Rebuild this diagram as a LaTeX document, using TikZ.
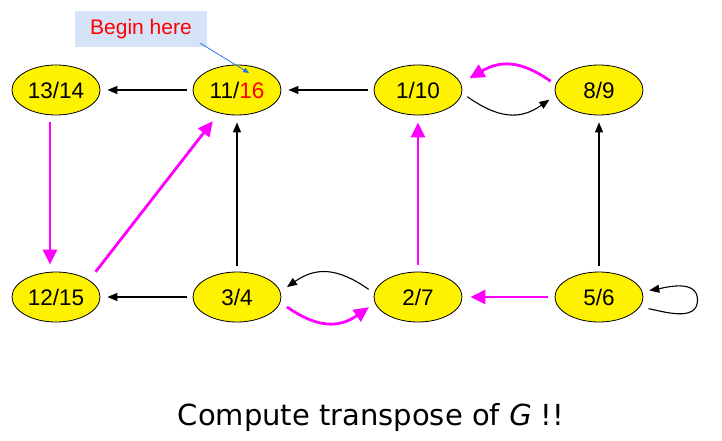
\documentclass[tikz,border=0pt]{standalone}
\usepackage{fontspec}
\setmainfont{Liberation Sans}
\newfontfamily\capfont{DejaVu Sans}
\usetikzlibrary{shapes.geometric,arrows.meta}
\definecolor{mag}{RGB}{255,0,255}
\definecolor{boxblue}{RGB}{212,227,245}
\definecolor{arrblue}{RGB}{40,120,235}
\begin{document}
\begin{tikzpicture}[x=1pt,y=1pt,
  vtx/.style={ellipse, draw=black, line width=0.8pt, fill=yellow,
    minimum width=88pt, minimum height=50pt, inner sep=0pt,
    font=\fontsize{22.5}{26}\selectfont},
  blk/.style={draw=black, line width=1.1pt, -{Triangle[length=10pt,width=8pt]},
    shorten <=6pt, shorten >=7pt},
  magarr/.style={draw=mag, line width=2.8pt, -{Triangle[length=15pt,width=14pt]},
    shorten <=7pt, shorten >=7pt}]
\useasboundingbox (0,0) rectangle (722,-441);

\node[vtx] (n1314) at (56,-90) {13/14};
\node[vtx] (n1116) at (237,-90) {11/\textcolor{red}{16}};
\node[vtx] (n110) at (418,-90) {1/10};
\node[vtx] (n89) at (599,-90) {8/9};
\node[vtx] (n1215) at (56,-297) {12/15};
\node[vtx] (n34) at (237,-297) {3/4};
\node[vtx] (n27) at (418,-297) {2/7};
\node[vtx] (n56) at (599,-297) {5/6};

% straight black
\draw[blk] (n1116) -- (n1314);
\draw[blk] (n110) -- (n1116);
\draw[blk] (n34) -- (n1215);
\draw[blk] (n34) -- (n1116);
\draw[blk] (n56) -- (n89);

% straight magenta
\draw[magarr] ([xshift=-6pt]n1314.south) -- ([xshift=-6pt]n1215.north);
\draw[magarr] (n27) -- (n110);
\draw[magarr, shorten >=8pt] (n56) -- (n27);
\draw[magarr, shorten <=10.5pt, shorten >=10pt] (n1215.27) -- (n1116);

% curved
\draw[blk, shorten <=6.3pt, shorten >=7.6pt] (n110.-4) to[out=-35,in=-145,looseness=1.2] (n89.187);
\draw[magarr, shorten <=6pt, shorten >=10pt] (n89.173) to[out=145,in=30,looseness=1.2] (n110.9);
\draw[blk, shorten <=6.6pt, shorten >=8pt] (n27.175) to[out=145,in=35,looseness=1.2] (n34.7);
\draw[magarr, shorten <=8pt, shorten >=7.3pt] (n34.-7) to[out=-35,in=-145,looseness=1.2] (n27.188);

% self loop
\coordinate (loopR) at ([shift={(98.5pt,-3pt)}]n56.center);
\draw[blk, shorten <=9pt, shorten >=7pt] (n56.-14) to[out=-10,in=-90] (loopR) to[out=90,in=10] (n56.7);

% Begin here
\node[fill=boxblue, minimum width=132pt, minimum height=36pt, inner sep=0pt,
  text=red, font=\fontsize{21}{24}\selectfont] (begin) at (141,-29) {Begin here};
\draw[arrblue, line width=0.8pt, -{Triangle[length=6pt,width=5pt]}]
  ([shift={(-7pt,4pt)}]begin.south east) -- ([shift={(12pt,17pt)}]n1116.center);

% caption
\node[anchor=base, inner sep=0pt, font=\capfont\fontsize{29}{34}\selectfont] (cap) at (371,-425)
  {Compute transpose of \textit{G} !!};
\end{tikzpicture}
\end{document}
